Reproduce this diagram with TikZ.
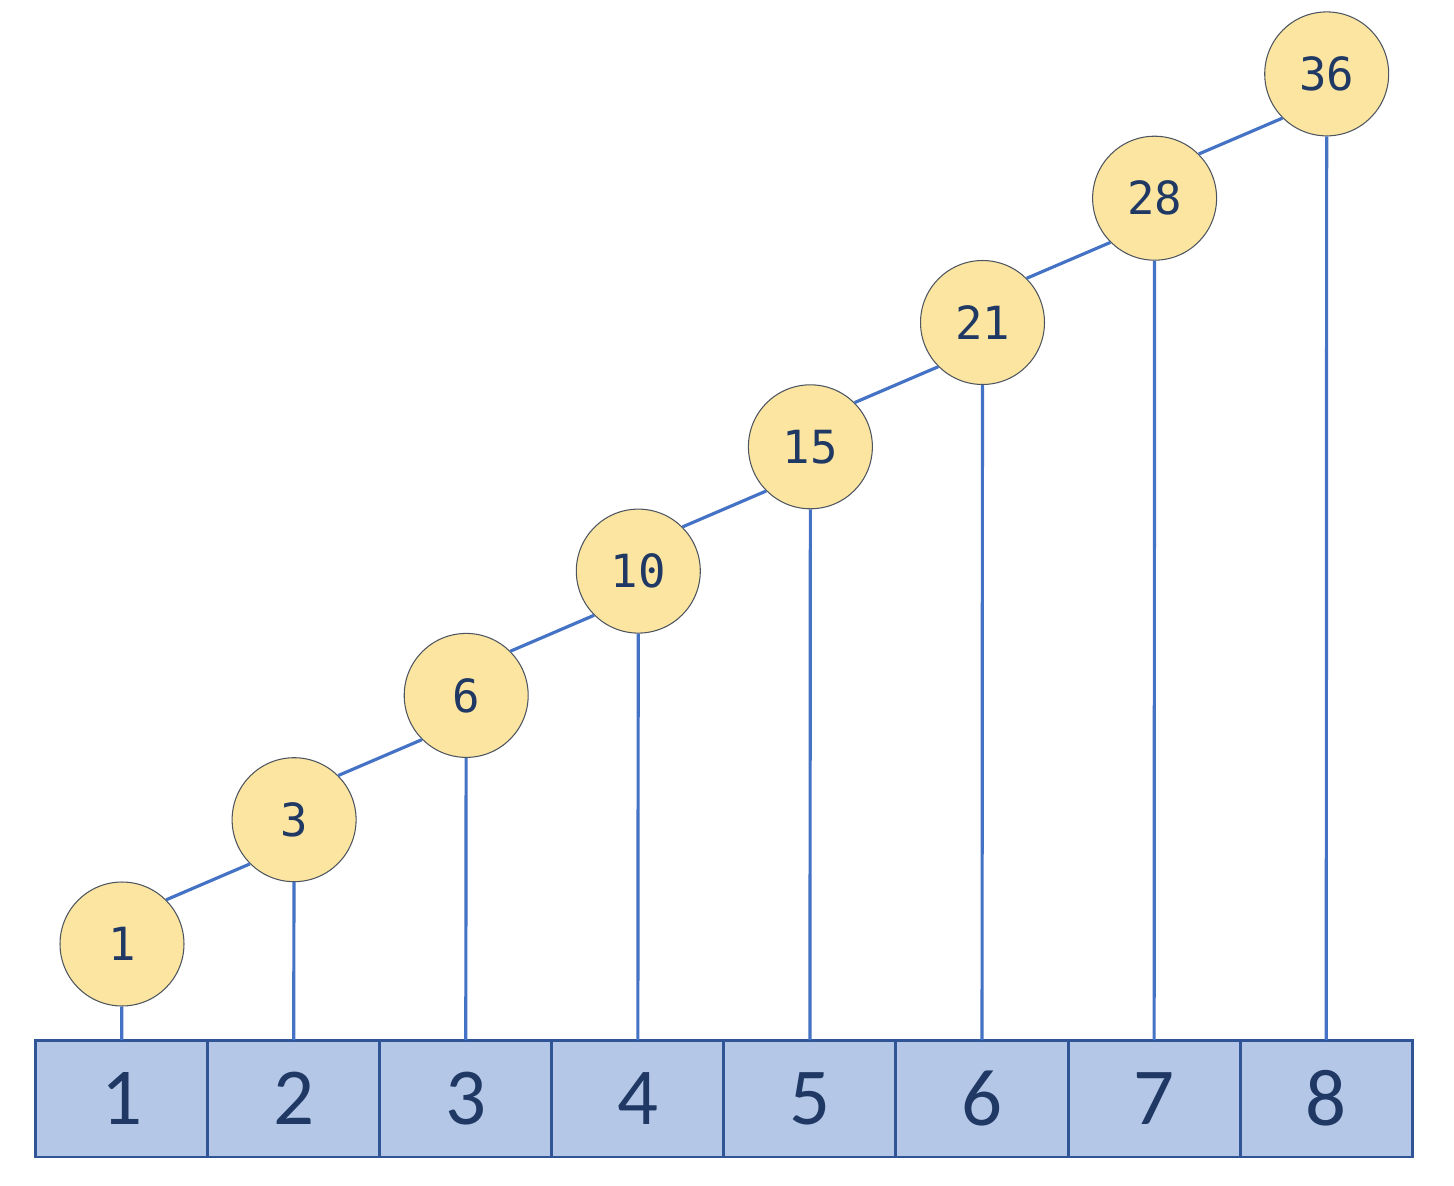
\documentclass[tikz,border=0pt]{standalone}
\usepackage{fontspec}
\setmainfont{Carlito}
\newfontfamily\sumfont{DejaVu Sans Mono}
\usetikzlibrary{calc}

\definecolor{cellfill}{HTML}{B4C7E7}
\definecolor{celldraw}{HTML}{2F5597}
\definecolor{numtext}{HTML}{1F3864}
\definecolor{sumfill}{HTML}{FBE5A1}
\definecolor{sumdraw}{HTML}{4D5560}
\definecolor{linkblue}{HTML}{4472C4}

\begin{document}
\begin{tikzpicture}[x=0.02cm, y=-0.02cm,
  cell/.style={draw=celldraw, fill=cellfill, line width=1.7pt, inner sep=0pt, outer sep=0pt,
    minimum width=3.442cm, minimum height=2.34cm, text=numtext, font=\fontsize{46}{50}\selectfont},
  sum/.style={circle, draw=sumdraw, fill=sumfill, line width=0.6pt, inner sep=0pt,
    minimum size=2.48cm, text=numtext, font=\sumfont\fontsize{26}{30}\selectfont},
  link/.style={draw=linkblue, line width=1.8pt}]

  \useasboundingbox (0,0) rectangle (1454,1186);

  % ---------- Array cells and running sums ----------
  \foreach \i/\v in {1/1,2/3,3/6,4/10,5/15,6/21,7/28,8/36} {
    \node[cell] (cell\i) at ({121.5+172.1*(\i-1)}, 1098.5) {\i};
    \node[sum] (sum\i) at ({122+172.1*(\i-1)}, {944-124.3*(\i-1)}) {\v};
  }

  % ---------- Connectors ----------
  \foreach \i in {1,...,8} \draw[link] (sum\i) -- (cell\i);
  \foreach \i [count=\j from 2] in {1,...,7} \draw[link] (sum\i.north east) -- (sum\j.south west);

\end{tikzpicture}
\end{document}
